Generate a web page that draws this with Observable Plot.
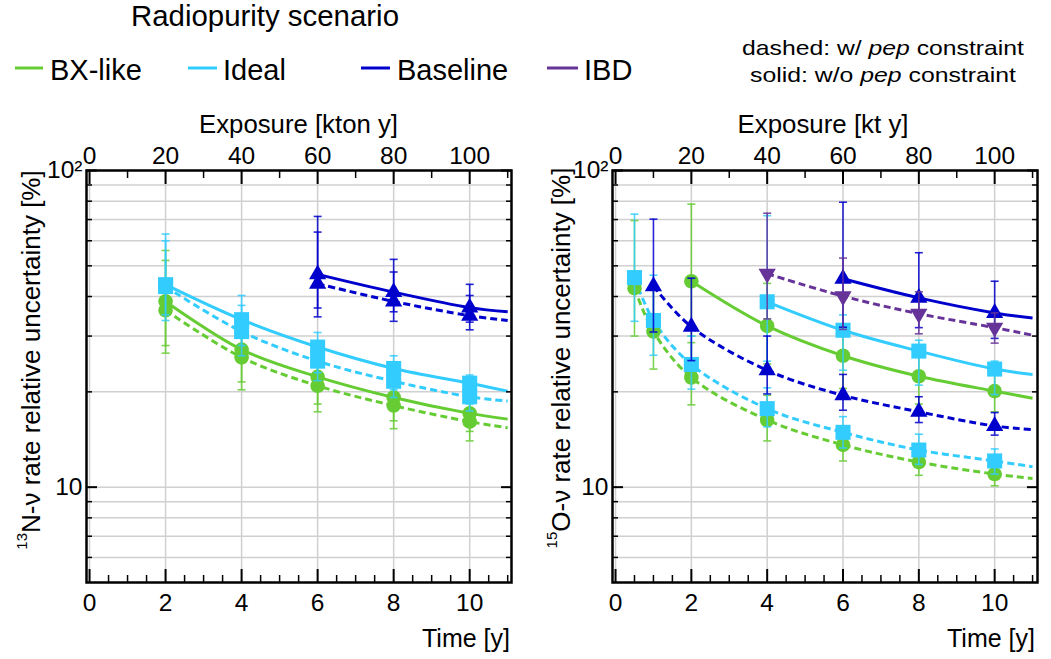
<!DOCTYPE html>
<html>
<head>
<meta charset="utf-8">
<script src="https://cdn.jsdelivr.net/npm/d3@7"></script>
<script src="https://cdn.jsdelivr.net/npm/@observablehq/plot@0.6"></script>
<style>
  body { margin: 0; background: #fff; font-family: "Liberation Sans", Arial, sans-serif; }
  #page { position: relative; width: 1051px; height: 659px; overflow: hidden; background: #fff; }
  .panel { position: absolute; top: 100px; }
  #overlay { position: absolute; left: 0; top: 0; pointer-events: none; }
</style>
</head>
<body>
<div id="page">
  <div id="left" class="panel" style="left:0px"></div>
  <div id="right" class="panel" style="left:525px"></div>
</div>
<script>
// ---------------- data ----------------
const scenarios = ["BX-like", "Ideal", "Baseline", "IBD"];
const scenarioColors = ["#66cc33", "#33ccff", "#0000cc", "#663399"];
const scenarioSymbols = ["circle", "square", "triangle", "triangleDown"];
const scenarioRadius = [7.3, 8.5, 6.4, 6.4];

const lineEndTime = 11;                 // curves run to the right edge (t = 11 y)
const timeTicks = [0, 2, 4, 6, 8, 10];  // bottom axis: Time [y]
const exposureTicks = [0, 20, 40, 60, 80, 100]; // top axis: exposure
const kilotonPerYear = 10;
const yMajorTicks = [10, 100];
const yTickLabels = ["10", "10²"];
const yMinorTicks = [6, 7, 8, 9, 20, 30, 40, 50, 60, 70, 80, 90];
const yGridValues = [6, 7, 8, 9, 10, 20, 30, 40, 50, 60, 70, 80, 90];

// ---- 13N-nu panel (left) ----
const n13Times = [2, 4, 6, 8, 10];
const n13BaselineTimes = [6, 8, 10];
const n13BxSolid      = [38.6, 27.2, 22.3, 19.2, 17.1];
const n13BxSolidLo    = [28.0, 21.5, 18.3, 16.2, 15.0];
const n13BxSolidHi    = [55.9, 34.6, 26.5, 22.5, 19.8];
const n13BxSolidEnd   = 16.4;
const n13BxDashed     = [36.2, 25.7, 20.9, 18.1, 16.1];
const n13BxDashedLo   = [26.5, 20.3, 17.3, 15.3, 14.0];
const n13BxDashedHi   = [52.0, 32.5, 25.0, 21.3, 18.6];
const n13BxDashedEnd  = 15.4;
const n13IdealSolid     = [43.6, 33.8, 27.7, 23.7, 21.3];
const n13IdealSolidLo   = [35.0, 28.0, 23.0, 20.3, 18.3];
const n13IdealSolidHi   = [63.0, 40.3, 30.8, 26.0, 22.6];
const n13IdealSolidEnd  = 20.1;
const n13IdealDashed    = [43.0, 31.0, 25.0, 21.6, 19.3];
const n13IdealDashedLo  = [33.6, 26.0, 21.7, 19.2, 17.4];
const n13IdealDashedHi  = [60.0, 37.5, 28.5, 24.3, 21.3];
const n13IdealDashedEnd = 18.7;
const n13BaseSolid     = [47.0, 41.3, 36.9];
const n13BaseSolidLo   = [34.5, 33.4, 31.4];
const n13BaseSolidHi   = [71.6, 52.4, 43.7];
const n13BaseSolidEnd  = 35.8;
const n13BaseDashed    = [43.9, 38.6, 34.8];
const n13BaseDashedLo  = [36.8, 35.8, 33.2];
const n13BaseDashedHi  = [63.9, 47.8, 40.3];
const n13BaseDashedEnd = 33.6;

// ---- 15O-nu panel (right) ----
const o15TimesAll = [0.5, 1, 2, 4, 6, 8, 10];
const o15BxSolidTimes = [2, 4, 6, 8, 10];
const o15IdealSolidTimes = [4, 6, 8, 10];
const o15BaseSolidTimes = [6, 8, 10];
const o15BaseDashedTimes = [1, 2, 4, 6, 8, 10];
const o15IbdTimes = [4, 6, 8, 10];
const o15BxSolid      = [44.7, 32.3, 26.0, 22.4, 20.1];
const o15BxSolidLo    = [30.0, 24.5, 20.5, 18.3, 17.3];
const o15BxSolidHi    = [78.3, 44.0, 32.0, 27.5, 23.5];
const o15BxSolidEnd   = 19.1;
const o15BxDashed     = [42.5, 31.0, 22.2, 16.3, 13.6, 12.0, 11.0];
const o15BxDashedLo   = [30.0, 23.6, 18.2, 14.0, 12.1, 10.9, 10.1];
const o15BxDashedHi   = [69.5, 42.0, 28.6, 19.5, 15.5, 13.4, 12.0];
const o15BxDashedEnd  = 10.65;
const o15IdealSolid     = [38.5, 31.3, 26.9, 23.6];
const o15IdealSolidLo   = [25.0, 23.4, 21.0, 19.6];
const o15IdealSolidHi   = [72.0, 35.0, 29.1, 25.0];
const o15IdealSolidEnd  = 22.7;
const o15IdealDashed    = [45.9, 33.6, 24.4, 17.7, 14.9, 13.1, 12.1];
const o15IdealDashedLo  = [33.4, 26.1, 20.4, 15.5, 13.3, 11.8, 11.0];
const o15IdealDashedHi  = [72.8, 46.7, 30.0, 20.6, 16.7, 14.7, 13.2];
const o15IdealDashedEnd = 11.6;
const o15BaseSolid     = [45.5, 39.6, 35.5];
const o15BaseSolidLo   = [32.0, 31.9, 29.5];
const o15BaseSolidHi   = [79.4, 55.0, 44.7];
const o15BaseSolidEnd  = 34.2;
const o15BaseDashed    = [43.1, 32.1, 23.4, 19.5, 17.3, 15.6];
const o15BaseDashedLo  = [30.9, 25.1, 19.7, 17.5, 16.0, 14.6];
const o15BaseDashedHi  = [70.2, 45.7, 30.0, 22.7, 19.3, 17.2];
const o15BaseDashedEnd = 15.2;
const o15IbdDashed     = [47.2, 40.1, 35.3, 31.9];
const o15IbdDashedLo   = [34.0, 31.5, 30.5, 28.5];
const o15IbdDashedHi   = [73.3, 52.9, 41.4, 35.5];
const o15IbdDashedEnd  = 30.2;

// ---------------- series tables ----------------
const mk = (scenario, style, t, v, lo, hi, end) => ({scenario, style, t, v, lo, hi, end});
const n13Series = [
  mk(0, "solid", n13Times, n13BxSolid, n13BxSolidLo, n13BxSolidHi, n13BxSolidEnd),
  mk(0, "dashed", n13Times, n13BxDashed, n13BxDashedLo, n13BxDashedHi, n13BxDashedEnd),
  mk(1, "solid", n13Times, n13IdealSolid, n13IdealSolidLo, n13IdealSolidHi, n13IdealSolidEnd),
  mk(1, "dashed", n13Times, n13IdealDashed, n13IdealDashedLo, n13IdealDashedHi, n13IdealDashedEnd),
  mk(2, "solid", n13BaselineTimes, n13BaseSolid, n13BaseSolidLo, n13BaseSolidHi, n13BaseSolidEnd),
  mk(2, "dashed", n13BaselineTimes, n13BaseDashed, n13BaseDashedLo, n13BaseDashedHi, n13BaseDashedEnd)
];
const o15Series = [
  mk(0, "solid", o15BxSolidTimes, o15BxSolid, o15BxSolidLo, o15BxSolidHi, o15BxSolidEnd),
  mk(0, "dashed", o15TimesAll, o15BxDashed, o15BxDashedLo, o15BxDashedHi, o15BxDashedEnd),
  mk(1, "solid", o15IdealSolidTimes, o15IdealSolid, o15IdealSolidLo, o15IdealSolidHi, o15IdealSolidEnd),
  mk(1, "dashed", o15TimesAll, o15IdealDashed, o15IdealDashedLo, o15IdealDashedHi, o15IdealDashedEnd),
  mk(2, "solid", o15BaseSolidTimes, o15BaseSolid, o15BaseSolidLo, o15BaseSolidHi, o15BaseSolidEnd),
  mk(2, "dashed", o15BaseDashedTimes, o15BaseDashed, o15BaseDashedLo, o15BaseDashedHi, o15BaseDashedEnd),
  mk(3, "dashed", o15IbdTimes, o15IbdDashed, o15IbdDashedLo, o15IbdDashedHi, o15IbdDashedEnd)
];

// ---------------- symbols ----------------
const capSymbol = {draw(ctx, size) { const h = Math.sqrt(size / Math.PI); ctx.moveTo(-h, 0); ctx.lineTo(h, 0); }};
const triangleDown = {draw(ctx, size) {
  const y = Math.sqrt(size / (Math.sqrt(3) * 3));
  ctx.moveTo(0, y * 2); ctx.lineTo(-Math.sqrt(3) * y, -y); ctx.lineTo(Math.sqrt(3) * y, -y); ctx.closePath();
}};
const symbolOf = (name) => name === "triangleDown" ? triangleDown : name;

const timeMinorTicks = d3.range(0.5, 11.01, 0.5).filter(t => !timeTicks.includes(t));
const exposureTickTimes = exposureTicks.map(e => e / kilotonPerYear);
const exposureMinorTimes = d3.range(10, 111, 20).map(e => e / kilotonPerYear);

function drawPanel(series, xDomain, width, marginLeft) {
  const grid = {stroke: "#d0d0d0", strokeOpacity: 1, strokeWidth: 1.5};
  const marks = [
    Plot.gridX(timeTicks, grid),
    Plot.gridY(yGridValues, grid)
  ];
  for (const s of series) {
    const pts = s.t.map((t, i) => ({t, v: s.v[i]}));
    pts.push({t: lineEndTime, v: s.end});
    marks.push(Plot.line(pts, {
      x: "t", y: "v", stroke: scenarioColors[s.scenario], strokeWidth: 3,
      strokeDasharray: s.style === "dashed" ? "7,4" : undefined,
      strokeLinecap: "butt", curve: "catmull-rom"
    }));
  }
  for (const s of series) {
    const c = scenarioColors[s.scenario];
    const pts = s.t.map((t, i) => ({t, v: s.v[i], lo: s.lo[i], hi: s.hi[i]}));
    marks.push(
      Plot.ruleX(pts, {x: "t", y1: "lo", y2: "hi", stroke: c, strokeWidth: 1.6, strokeOpacity: 0.85}),
      Plot.dot(pts, {x: "t", y: "lo", symbol: capSymbol, r: 4, stroke: c, fill: "none", strokeWidth: 1.6, strokeOpacity: 0.85}),
      Plot.dot(pts, {x: "t", y: "hi", symbol: capSymbol, r: 4, stroke: c, fill: "none", strokeWidth: 1.6, strokeOpacity: 0.85}),
      Plot.dot(pts, {x: "t", y: "v", symbol: symbolOf(scenarioSymbols[s.scenario]), r: scenarioRadius[s.scenario], fill: c, stroke: "none"})
    );
  }
  marks.push(
    Plot.frame({stroke: "black", strokeWidth: 2.5}),
    // inward ticks
    Plot.axisX(timeTicks, {anchor: "bottom", tickSize: -13, fill: "none", strokeWidth: 2, label: null}),
    Plot.axisX(timeMinorTicks, {anchor: "bottom", tickSize: -7, fill: "none", strokeWidth: 1.5, label: null}),
    Plot.axisX(exposureTickTimes, {anchor: "top", tickSize: -13, fill: "none", strokeWidth: 2, label: null}),
    Plot.axisX(exposureMinorTimes, {anchor: "top", tickSize: -7, fill: "none", strokeWidth: 1.5, label: null}),
    Plot.axisY(yMajorTicks, {anchor: "left", tickSize: -11, fill: "none", strokeWidth: 2, label: null}),
    Plot.axisY(yMinorTicks, {anchor: "left", tickSize: -6, fill: "none", strokeWidth: 1.5, label: null}),
    Plot.axisY(yMajorTicks, {anchor: "right", tickSize: -11, fill: "none", strokeWidth: 2, label: null}),
    Plot.axisY(yMinorTicks, {anchor: "right", tickSize: -6, fill: "none", strokeWidth: 1.5, label: null}),
    // tick labels
    Plot.axisX(timeTicks, {anchor: "bottom", tickSize: 0, tickPadding: 11, fontSize: 24.5, label: null}),
    Plot.axisX(exposureTickTimes, {anchor: "top", tickSize: 0, tickPadding: 7, fontSize: 24.5, label: null,
      tickFormat: t => String(exposureTicks[exposureTickTimes.indexOf(t)])}),
    Plot.axisY(yMajorTicks, {anchor: "left", tickSize: 0, tickPadding: 4, fontSize: 24.5, label: null,
      tickFormat: v => yTickLabels[yMajorTicks.indexOf(v)]})
  );
  return Plot.plot({
    width, height: 559,
    marginLeft, marginRight: 14, marginTop: 70, marginBottom: 77,
    x: {domain: xDomain, label: null},
    y: {type: "log", domain: [5, 100], label: null},
    style: {fontFamily: "'Liberation Sans', Arial, sans-serif", color: "black", background: "white", overflow: "visible"},
    marks
  });
}

document.getElementById("left").append(drawPanel(n13Series, [-0.08, 11.1], 525, 86));
document.getElementById("right").append(drawPanel(o15Series, [-0.08, 11.13], 526, 87));

// ---------------- titles & legend ----------------
const legendX = [[15, 43, 50], [188, 217, 223], [361, 390, 397], [547, 578, 584]];
let legend = "";
scenarios.forEach((name, i) => {
  const [x1, x2, tx] = legendX[i];
  legend += `<line x1="${x1}" x2="${x2}" y1="68" y2="68" stroke="${scenarioColors[i]}" stroke-width="3"/>`;
  legend += `<text x="${tx}" y="80" font-size="29">${name}</text>`;
});
const overlay = `
<svg id="overlay" width="1051" height="659" xmlns="http://www.w3.org/2000/svg" font-family="'Liberation Sans', Arial, sans-serif" fill="black">
  <text x="265" y="26" font-size="29" text-anchor="middle" textLength="268" lengthAdjust="spacingAndGlyphs">Radiopurity scenario</text>
  ${legend}
  <text x="883" y="55" font-size="21" text-anchor="middle" textLength="282" lengthAdjust="spacingAndGlyphs">dashed: w/ <tspan font-style="italic">pep</tspan> constraint</text>
  <text x="883" y="82" font-size="21" text-anchor="middle" textLength="266" lengthAdjust="spacingAndGlyphs">solid: w/o <tspan font-style="italic">pep</tspan> constraint</text>
  <text x="298.5" y="133" font-size="25" text-anchor="middle" textLength="199" lengthAdjust="spacingAndGlyphs">Exposure [kton y]</text>
  <text x="823" y="133" font-size="25" text-anchor="middle" textLength="171" lengthAdjust="spacingAndGlyphs">Exposure [kt y]</text>
  <text x="510" y="647" font-size="25" text-anchor="end">Time [y]</text>
  <text x="1035" y="647" font-size="25" text-anchor="end">Time [y]</text>
  <text transform="translate(40,360) rotate(-90)" font-size="26" text-anchor="middle"><tspan font-size="15" dy="-13">13</tspan><tspan dy="13">N-ν rate relative uncertainty [%]</tspan></text>
  <text transform="translate(570,358) rotate(-90)" font-size="26" text-anchor="middle"><tspan font-size="15" dy="-13">15</tspan><tspan dy="13">O-ν rate relative uncertainty [%]</tspan></text>
</svg>`;
document.getElementById("page").insertAdjacentHTML("beforeend", overlay);
</script>
</body>
</html>
